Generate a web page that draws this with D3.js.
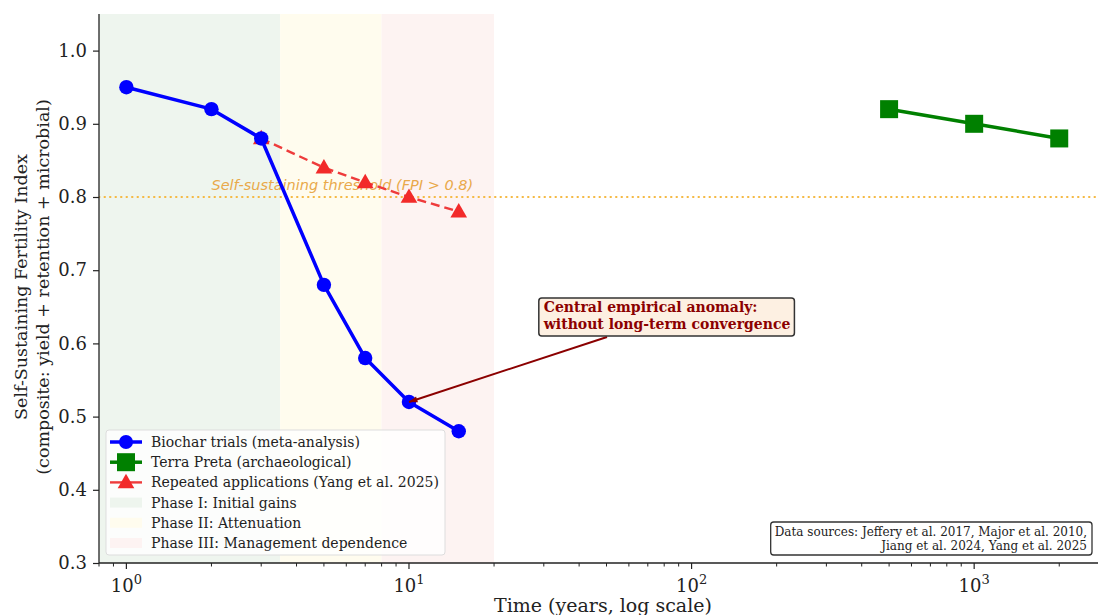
<!DOCTYPE html>
<html>
<head>
<meta charset="utf-8">
<script src="https://cdn.jsdelivr.net/npm/d3@7"></script>
<style>
  body { margin: 0; background: #fff; }
  svg { display: block; font-family: "DejaVu Serif", serif; }
</style>
</head>
<body>
<svg id="chart" width="1098" height="615"></svg>
<script>
// data
const biocharYears = [1, 2, 3, 5, 7, 10, 15];
const biocharFpi = [0.95, 0.92, 0.88, 0.68, 0.58, 0.52, 0.48];
const terraYears = [500, 1000, 2000];
const terraFpi = [0.92, 0.90, 0.88];
const repeatYears = [3, 5, 7, 10, 15];
const repeatFpi = [0.88, 0.84, 0.82, 0.80, 0.78];
const phaseNames = ['Phase I: Initial gains', 'Phase II: Attenuation', 'Phase III: Management dependence'];
const phaseStart = [0.5, 3.5, 8];
const phaseEnd = [3.5, 8, 20];
const yTicks = [0.3, 0.4, 0.5, 0.6, 0.7, 0.8, 0.9, 1.0];
const xTicks = [1, 10, 100, 1000];
const threshold = 0.8;

const svg = d3.select('#chart');
const margin = { top: 14, left: 99, bottom: 563 };

const x = d3.scaleLog()
  .domain([0.8, 3000])
  .range([margin.left, 1109]);

const y = d3.scaleLinear()
  .domain([0.3, 1.05])
  .range([margin.bottom, margin.top]);

const phaseColors = ['#eef5ee', '#fffcee', '#fdf3f2'];

svg.append('defs').append('clipPath').attr('id', 'plot')
  .append('rect')
  .attr('x', margin.left).attr('y', margin.top)
  .attr('width', 1098 - margin.left).attr('height', margin.bottom - margin.top);

const plot = svg.append('g').attr('clip-path', 'url(#plot)');

// phase shading
plot.selectAll('.phase')
  .data(phaseNames)
  .enter().append('rect')
  .attr('class', 'phase')
  .attr('x', (d, i) => x(phaseStart[i]))
  .attr('width', (d, i) => x(phaseEnd[i]) - x(phaseStart[i]))
  .attr('y', margin.top)
  .attr('height', margin.bottom - margin.top)
  .attr('fill', (d, i) => phaseColors[i]);

// threshold
plot.append('line')
  .attr('x1', margin.left).attr('x2', 1098)
  .attr('y1', y(threshold)).attr('y2', y(threshold))
  .attr('stroke', '#f5b841')
  .attr('stroke-width', 2)
  .attr('stroke-dasharray', '0.5,5')
  .attr('stroke-linecap', 'round');

plot.append('text')
  .attr('x', x(2)).attr('y', y(0.81))
  .attr('font-family', 'DejaVu Sans, sans-serif')
  .attr('font-style', 'italic')
  .attr('font-size', 14.5)
  .attr('fill', '#e9a94a')
  .text('Self-sustaining threshold (FPI > 0.8)');

const line = d3.line()
  .x(d => x(d[0]))
  .y(d => y(d[1]));

// repeated applications
const repeat = repeatYears.map((d, i) => [d, repeatFpi[i]]);
plot.append('path')
  .datum(repeat)
  .attr('d', line)
  .attr('fill', 'none')
  .attr('stroke', '#ee3b3b')
  .attr('stroke-width', 2.4)
  .attr('stroke-dasharray', '9,5');

const tri = d3.symbol().type(d3.symbolTriangle).size(120);
plot.selectAll('.tri')
  .data(repeat)
  .enter().append('path')
  .attr('class', 'tri')
  .attr('transform', d => `translate(${x(d[0])},${y(d[1]) + 1})`)
  .attr('d', tri)
  .attr('fill', '#f22a2a');

// biochar
const biochar = biocharYears.map((d, i) => [d, biocharFpi[i]]);
plot.append('path')
  .datum(biochar)
  .attr('d', line)
  .attr('fill', 'none')
  .attr('stroke', '#0000ff')
  .attr('stroke-width', 3.5)
  .attr('stroke-linejoin', 'round');

plot.selectAll('.dot')
  .data(biochar)
  .enter().append('circle')
  .attr('class', 'dot')
  .attr('cx', d => x(d[0]))
  .attr('cy', d => y(d[1]))
  .attr('r', 7.2)
  .attr('fill', '#0000ff');

// terra preta
const terra = terraYears.map((d, i) => [d, terraFpi[i]]);
plot.append('path')
  .datum(terra)
  .attr('d', line)
  .attr('fill', 'none')
  .attr('stroke', '#008000')
  .attr('stroke-width', 3.5);

plot.selectAll('.sq')
  .data(terra)
  .enter().append('rect')
  .attr('class', 'sq')
  .attr('x', d => x(d[0]) - 9)
  .attr('y', d => y(d[1]) - 9)
  .attr('width', 18)
  .attr('height', 18)
  .attr('fill', '#008000');

// axes
const yAxis = svg.append('g')
  .attr('transform', `translate(${margin.left},0)`)
  .call(d3.axisLeft(y).tickValues(yTicks).tickFormat(d3.format('.1f')).tickSizeOuter(0).tickSize(6));

yAxis.select('.domain').attr('stroke', '#222').attr('stroke-width', 1.3)
  .attr('d', `M0,${margin.bottom}V${margin.top}`);
yAxis.selectAll('.tick line').attr('stroke', '#222').attr('stroke-width', 1.2);
yAxis.selectAll('.tick text')
  .attr('font-family', 'DejaVu Serif, serif')
  .attr('font-size', 18)
  .attr('fill', '#222')
  .attr('dx', -3);

const minorTicks = [];
for (let p = -1; p < 4; p++) {
  for (let m = 2; m < 10; m++) {
    const v = m * Math.pow(10, p);
    if (v >= 0.8 && v <= 3000) minorTicks.push(v);
  }
}

const xAxis = svg.append('g')
  .attr('transform', `translate(0,${margin.bottom})`);

xAxis.append('line')
  .attr('x1', margin.left).attr('x2', 1098)
  .attr('stroke', '#222').attr('stroke-width', 1.3);

xAxis.selectAll('.minor')
  .data(minorTicks)
  .enter().append('line')
  .attr('class', 'minor')
  .attr('x1', d => x(d)).attr('x2', d => x(d))
  .attr('y2', 3.5)
  .attr('stroke', '#222').attr('stroke-width', 1);

xAxis.selectAll('.major')
  .data(xTicks)
  .enter().append('line')
  .attr('class', 'major')
  .attr('x1', d => x(d)).attr('x2', d => x(d))
  .attr('y2', 6)
  .attr('stroke', '#222').attr('stroke-width', 1.2);

const xLabels = xAxis.selectAll('.xlab')
  .data(xTicks)
  .enter().append('text')
  .attr('class', 'xlab')
  .attr('x', d => x(d))
  .attr('y', 29)
  .attr('text-anchor', 'middle')
  .attr('font-size', 18)
  .attr('fill', '#222');

xLabels.append('tspan').text('10');
xLabels.append('tspan')
  .attr('dy', -8)
  .attr('font-size', 13)
  .text(d => Math.round(Math.log10(d)));

// axis titles
svg.append('text')
  .attr('x', 603).attr('y', 612)
  .attr('text-anchor', 'middle')
  .attr('font-size', 19)
  .attr('fill', '#222')
  .text('Time (years, log scale)');

const yTitle = svg.append('text')
  .attr('transform', 'translate(27,287) rotate(-90)')
  .attr('text-anchor', 'middle')
  .attr('font-size', 17.5)
  .attr('fill', '#222');
yTitle.append('tspan').attr('x', 0).attr('y', 0).text('Self-Sustaining Fertility Index');
yTitle.append('tspan').attr('x', 0).attr('y', 22).text('(composite: yield + retention + microbial)');

// annotation
const ax = x(10), ay = y(0.52);
const tailX = 607, tailY = 337;
const ang = Math.atan2(ay - tailY, ax - tailX);
svg.append('line')
  .attr('x1', tailX).attr('y1', tailY)
  .attr('x2', ax).attr('y2', ay)
  .attr('stroke', '#8b0000').attr('stroke-width', 2);
const ah = 9;
svg.append('path')
  .attr('d', `M${ax},${ay}L${ax - ah * Math.cos(ang - 0.35)},${ay - ah * Math.sin(ang - 0.35)}L${ax - ah * Math.cos(ang + 0.35)},${ay - ah * Math.sin(ang + 0.35)}Z`)
  .attr('fill', '#8b0000');

const annBox = svg.append('rect');
const ann = svg.append('text')
  .attr('font-size', 14)
  .attr('font-weight', 'bold')
  .attr('fill', '#8b0000');
ann.append('tspan').attr('x', x(30)).attr('y', y(0.62) - 17).text('Central empirical anomaly:');
ann.append('tspan').attr('x', x(30)).attr('y', y(0.62)).text('without long-term convergence');
const ab = ann.node().getBBox();
annBox
  .attr('x', ab.x - 4).attr('y', 298).attr('width', ab.width + 8).attr('height', 38)
  .attr('rx', 3)
  .attr('fill', '#fdf0e2')
  .attr('stroke', '#333').attr('stroke-width', 1.5);

// data sources box
const srcBox = svg.append('rect');
const src = svg.append('text')
  .attr('text-anchor', 'end')
  .attr('font-size', 12)
  .attr('fill', '#222');
src.append('tspan').attr('x', 1087).attr('y', 536).text('Data sources: Jeffery et al. 2017, Major et al. 2010,');
src.append('tspan').attr('x', 1087).attr('y', 550).text('Jiang et al. 2024, Yang et al. 2025');
const sb = src.node().getBBox();
srcBox
  .attr('x', sb.x - 4).attr('y', 522).attr('width', 1092 - sb.x + 4).attr('height', 33)
  .attr('rx', 3)
  .attr('fill', '#fff')
  .attr('stroke', '#333').attr('stroke-width', 1.3);

// legend
const legend = svg.append('g').attr('transform', 'translate(106,430)');
legend.append('rect')
  .attr('width', 339).attr('height', 125)
  .attr('rx', 3)
  .attr('fill', 'rgba(255,255,255,0.8)')
  .attr('stroke', '#ddd');

const legendNames = ['Biochar trials (meta-analysis)', 'Terra Preta (archaeological)', 'Repeated applications (Yang et al. 2025)'].concat(phaseNames);
const rowY = i => 12 + i * 20.2;

legendNames.forEach((name, i) => {
  const g = legend.append('g').attr('transform', `translate(0,${rowY(i)})`);
  if (i === 0) {
    g.append('line').attr('x1', 4).attr('x2', 36).attr('stroke', '#0000ff').attr('stroke-width', 3.5);
    g.append('circle').attr('cx', 20).attr('r', 7).attr('fill', '#0000ff');
  } else if (i === 1) {
    g.append('line').attr('x1', 4).attr('x2', 36).attr('stroke', '#008000').attr('stroke-width', 3.5);
    g.append('rect').attr('x', 11).attr('y', -9).attr('width', 18).attr('height', 18).attr('fill', '#008000');
  } else if (i === 2) {
    g.append('line').attr('x1', 4).attr('x2', 36).attr('stroke', '#ee3b3b').attr('stroke-width', 2.4);
    g.append('path').attr('transform', 'translate(20,1)').attr('d', tri).attr('fill', '#f22a2a');
  } else {
    g.append('rect').attr('x', 4).attr('y', -5).attr('width', 32).attr('height', 10)
      .attr('fill', phaseColors[i - 3]);
  }
  g.append('text')
    .attr('x', 45).attr('y', 5)
    .attr('font-size', 14)
    .attr('fill', '#222')
    .text(name);
});
</script>
</body>
</html>
